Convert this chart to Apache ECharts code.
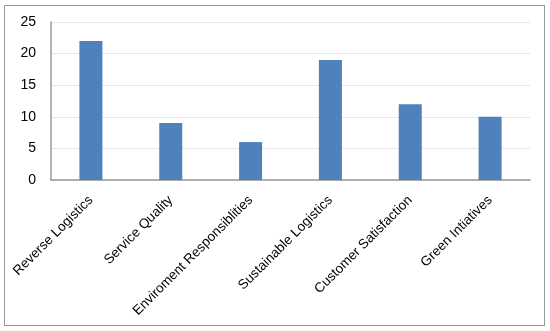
<!DOCTYPE html>
<html>
<head>
<meta charset="utf-8">
<script src="https://cdn.jsdelivr.net/npm/echarts@6/dist/echarts.min.js"></script>
<style>
html,body{margin:0;padding:0;background:#fff;}
#frame{position:absolute;left:4px;top:5px;width:539px;height:319px;border:1.5px solid #999;box-sizing:content-box;}
#chart{position:absolute;left:0;top:0;width:550px;height:331px;}
</style>
</head>
<body>
<div id="frame"></div>
<div id="chart"></div>
<script>
const categories = ["Reverse Logistics","Service Quality","Enviroment Responsiblities","Sustainable Logistics","Customer Satisfaction","Green Intiatives"];
const values = [22, 9, 6, 19, 12, 10];
const yTicks = {min: 0, max: 25, interval: 5};

const chart = echarts.init(document.getElementById('chart'), null, {renderer: 'canvas'});
chart.setOption({
  animation: false,
  backgroundColor: 'transparent',
  grid: {left: 51, right: 20, top: 22, bottom: 151, containLabel: false},
  xAxis: {
    type: 'category',
    data: categories,
    axisLine: {show: true, lineStyle: {color: '#999', width: 1.5}},
    axisTick: {show: false},
    axisLabel: {rotate: 45, margin: 18, interval: 0, color: '#000', fontSize: 13.5, fontFamily: 'Liberation Sans'}
  },
  yAxis: {
    type: 'value',
    min: yTicks.min, max: yTicks.max, interval: yTicks.interval,
    axisLine: {show: true, lineStyle: {color: '#999', width: 1.5}},
    axisTick: {show: false},
    splitLine: {lineStyle: {color: '#e6e6e6', width: 1}},
    axisLabel: {margin: 15, color: '#000', fontSize: 14, fontFamily: 'Liberation Sans'}
  },
  series: [{
    type: 'bar',
    data: values,
    barWidth: 23,
    itemStyle: {color: '#4f81bd'}
  }]
});
</script>
</body>
</html>
